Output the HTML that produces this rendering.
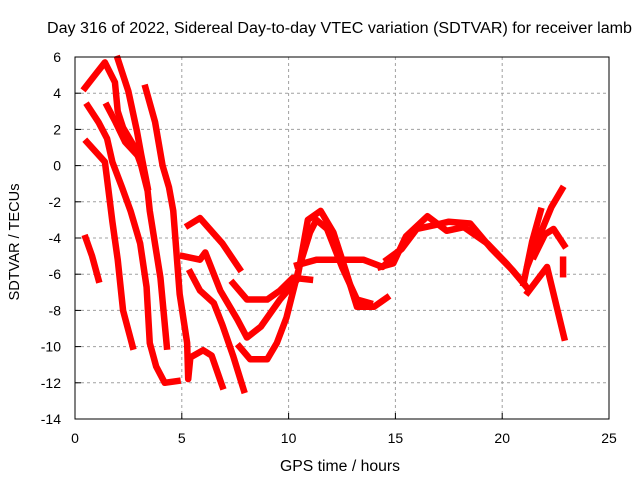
<!DOCTYPE html>
<html><head><meta charset="utf-8"><style>
body{margin:0;background:#fff}
svg text{font-family:"Liberation Sans",sans-serif;font-size:14px;fill:#000}
</style></head><body>
<svg id="chart" width="640" height="480" viewBox="0 0 640 480" xmlns="http://www.w3.org/2000/svg">
<rect width="640" height="480" fill="#fff"/>
<text x="47" y="33" style="font-size:15.5px" textLength="585" lengthAdjust="spacingAndGlyphs">Day 316 of 2022, Sidereal Day-to-day VTEC variation (SDTVAR) for receiver lamb</text>
<g id="grid"></g>
<g id="series"></g>
<g id="axes"></g>
<text x="340" y="471" text-anchor="middle" style="font-size:15.5px" textLength="120" lengthAdjust="spacingAndGlyphs">GPS time / hours</text>
<text transform="translate(19,242) rotate(-90)" text-anchor="middle" style="font-size:15px" textLength="117" lengthAdjust="spacingAndGlyphs">SDTVAR / TECUs</text>
</svg>
<script>
const xTicks=[0,5,10,15,20,25];
const yTicks=[6,4,2,0,-2,-4,-6,-8,-10,-12,-14];
const trackA=[[0.47,4.3],[1.0,5.1],[1.4,5.7],[1.87,4.6],[2.0,3.0],[2.25,2.1],[2.8,1.0],[3.1,0],[3.4,-1.4],[3.5,-2.5],[4.0,-6.2],[4.3,-10]];
const trackB=[[2.0,5.9],[2.5,4.1],[2.9,1.9],[3.1,0.6],[3.4,-1.2]];
const trackC=[[3.3,4.3],[3.75,2.4],[4.1,0],[4.4,-1.2],[4.6,-2.5],[4.9,-7.1],[5.25,-9.8],[5.3,-11.8],[5.4,-10.6],[6.0,-10.2],[6.4,-10.5],[6.9,-12.2]];
const trackD=[[0.6,3.3],[1.1,2.4],[1.5,1.5],[1.75,0.2],[2.2,-1.2],[2.6,-2.5],[3.05,-4.3],[3.35,-6.7],[3.5,-9.8],[3.8,-11.1],[4.2,-12],[4.8,-11.9]];
const trackE=[[1.5,3.3],[1.9,2.4],[2.35,1.3],[2.9,0.6]];
const trackE2=[[0.56,1.3],[1.4,0.2],[1.55,-1.2],[1.75,-3.1],[2.0,-5.2],[2.25,-8],[2.7,-10]];
const trackI=[[5.4,-5.9],[5.85,-6.9],[6.5,-7.6],[6.9,-8.8],[7.4,-10.5],[7.9,-12.4]];
const trackF=[[0.5,-4],[0.8,-5],[1.1,-6.3]];
const trackG=[[5.3,-3.3],[5.85,-2.9],[6.9,-4.3],[7.7,-5.7]];
const trackH=[[5.05,-5],[5.85,-5.2],[6.1,-4.8],[6.8,-6.9],[7.6,-8.5],[8.05,-9.5],[8.7,-8.9],[9.6,-7.4],[10.4,-6.3],[10.9,-3],[11.5,-2.5],[12.1,-3.7],[12.7,-5.9],[13.2,-7.8],[14.0,-7.8],[14.6,-7.3]];
const trackJ=[[7.4,-6.5],[8.05,-7.4],[9.0,-7.4],[9.6,-6.9],[10.2,-6.2],[11.0,-6.3]];
const trackK=[[7.7,-10],[8.2,-10.7],[9.0,-10.7],[9.45,-9.8],[9.9,-8.4],[10.5,-5.6],[11.0,-3.7],[11.3,-3],[11.8,-3.5],[12.5,-5.6],[13.2,-7.4],[13.8,-7.6]];
const trackL=[[10.4,-5.5],[11.3,-5.2],[12.3,-5.2],[13.5,-5.2],[14.4,-5.6],[15.2,-4.7]];
const trackM=[[14.3,-5.6],[14.9,-5.4],[15.5,-3.9],[16.5,-2.8],[17.4,-3.6],[18.2,-3.4],[19.3,-4.3],[20.2,-5.4],[21.0,-6.5]];
const trackM2=[[14.6,-5.2],[15.3,-4.6],[16.0,-3.5],[16.8,-3.3],[17.5,-3.1],[18.5,-3.2],[19.5,-4.6],[20.5,-5.8],[21.2,-6.8]];
const trackN=[[21.0,-6.5],[21.4,-4.2],[21.8,-2.5]];
const trackN2=[[21.2,-5.5],[21.7,-4],[22.3,-2.3],[22.8,-1.3]];
const trackO=[[21.5,-5],[22.0,-3.8],[22.4,-3.5],[22.9,-4.4]];
const trackP=[[21.2,-7],[22.1,-5.6],[22.9,-9.5]];
const trackQ=[[22.85,-5.2],[22.85,-6]];
const tracks=[trackA,trackB,trackC,trackD,trackE,trackE2,trackI,trackF,trackG,trackH,trackJ,trackK,trackL,trackM,trackM2,trackN,trackN2,trackO,trackP,trackQ];
const X0=75,X1=609,Y0=57,Y1=419;
const xs=v=>X0+(v-0)/(25-0)*(X1-X0);
const ys=v=>Y0+(6-v)/(6-(-14))*(Y1-Y0);
const NS="http://www.w3.org/2000/svg";
function mk(t,a,p){const e=document.createElementNS(NS,t);for(const k in a)e.setAttribute(k,a[k]);p.appendChild(e);return e;}
const grid=document.getElementById('grid'),axes=document.getElementById('axes'),ser=document.getElementById('series');
xTicks.forEach(v=>{const x=xs(v);
 if(v>0&&v<25){const l=mk('line',{x1:x,x2:x,y1:Y0,y2:Y1,stroke:'#a0a0a0','stroke-dasharray':'3,3'},grid);
 
 }
 const t=mk('line',{x1:x,x2:x,y1:Y1,y2:Y1-6,stroke:'#000'},axes);
 
 
 const tx=mk('text',{x:x,y:Y1+24,'text-anchor':'middle'},axes);tx.textContent=v;
 
 
});
yTicks.forEach(v=>{const y=ys(v);
 if(v<6&&v>-14){const l=mk('line',{x1:X0,x2:X1,y1:y,y2:y,stroke:'#a0a0a0','stroke-dasharray':'3,3'},grid);
 
 }
 const t=mk('line',{x1:X0,x2:X0+6,y1:y,y2:y,stroke:'#000'},axes);
 
 
 const tx=mk('text',{x:X0-14,y:y+5,'text-anchor':'end'},axes);tx.textContent=v;
 
 
});
const box=mk('rect',{x:X0,y:Y0,width:X1-X0,height:Y1-Y0,fill:'none',stroke:'#000'},axes);


tracks.forEach(tr=>{
 const pl=mk('polyline',{points:tr.map(p=>xs(p[0])+','+ys(p[1])).join(' '),fill:'none',stroke:'#ff0000','stroke-width':6.5,'stroke-linejoin':'round','stroke-linecap':'square'},ser);
 
 
});
</script>
</body></html>
